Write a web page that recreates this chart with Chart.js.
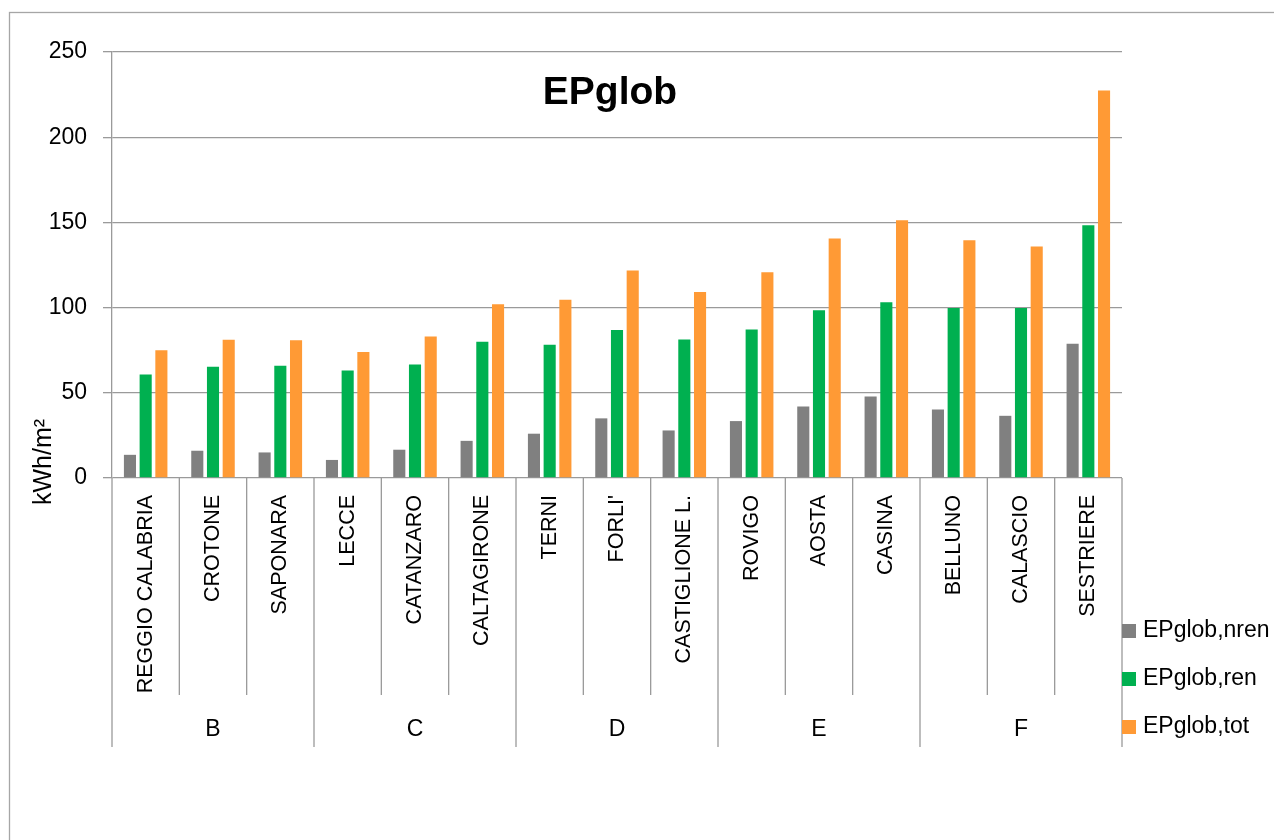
<!DOCTYPE html>
<html>
<head>
<meta charset="utf-8">
<script src="https://cdn.jsdelivr.net/npm/chart.js@4/dist/chart.umd.min.js"></script>
<style>
  html, body { margin: 0; padding: 0; background: #fff; }
  canvas { display: block; }
</style>
</head>
<body>
<canvas id="chart" width="1274" height="840"></canvas>
<script>
const cities = ['REGGIO CALABRIA', 'CROTONE', 'SAPONARA', 'LECCE', 'CATANZARO', 'CALTAGIRONE',
    'TERNI', "FORLI'", 'CASTIGLIONE L.', 'ROVIGO', 'AOSTA', 'CASINA', 'BELLUNO', 'CALASCIO', 'SESTRIERE'];
const zones = ['B', 'B', 'B', 'C', 'C', 'C', 'D', 'D', 'D', 'E', 'E', 'E', 'F', 'F', 'F'];
const nrenData = [13.6, 16.0, 15.0, 10.6, 16.6, 21.8, 26.0, 35.0, 27.9, 33.4, 42.0, 47.9, 40.2, 36.5, 78.8];
const renData = [60.8, 65.3, 65.9, 63.1, 66.6, 80.0, 78.2, 86.8, 81.3, 87.2, 98.4, 103.1, 99.7, 99.7, 148.3];
const totData = [74.9, 81.1, 80.9, 73.9, 83.1, 101.9, 104.6, 121.8, 109.1, 120.7, 140.6, 151.2, 139.5, 135.8, 227.4];
const seriesNames = ['EPglob,nren', 'EPglob,ren', 'EPglob,tot'];
const yTicks = [0, 50, 100, 150, 200, 250];

const FONT = "'Liberation Sans', Arial, sans-serif";
const GRID = '#9a9a9a';

// draws the frame, title, axis title, two-level category axis and legend
const decor = {
    id: 'decor',
    beforeDraw(chart) {
        const ctx = chart.ctx;
        ctx.save();
        ctx.fillStyle = '#fff';
        ctx.fillRect(0, 0, chart.width, chart.height);
        ctx.strokeStyle = '#a6a6a6';
        ctx.lineWidth = 1.3;
        ctx.strokeRect(9.5, 12.5, 1400, 1000);
        ctx.restore();
    },
    afterDraw(chart) {
        const ctx = chart.ctx;
        const x = chart.scales.x;
        const area = chart.chartArea;
        const step = x.getPixelForValue(1) - x.getPixelForValue(0);
        ctx.save();

        // title
        ctx.fillStyle = '#000';
        ctx.font = 'bold 39px ' + FONT;
        ctx.textAlign = 'center';
        ctx.textBaseline = 'middle';
        ctx.fillText('EPglob', 610, 93);

        // y axis title
        ctx.save();
        ctx.translate(44, 462);
        ctx.rotate(-Math.PI / 2);
        ctx.font = '25px ' + FONT;
        ctx.fillText('kWh/m²', 0, 0);
        ctx.restore();

        // city labels
        ctx.font = '21.5px ' + FONT;
        cities.forEach((c, i) => {
            ctx.save();
            ctx.translate(x.getPixelForValue(i), 495);
            ctx.rotate(-Math.PI / 2);
            ctx.textAlign = 'right';
            ctx.textBaseline = 'middle';
            ctx.fillText(c, 0, 0);
            ctx.restore();
        });

        // separators
        ctx.strokeStyle = GRID;
        ctx.lineWidth = 1.3;
        for (let i = 0; i <= cities.length; i++) {
            const bx = x.getPixelForValue(0) - step / 2 + i * step;
            const isGroup = i === 0 || i === cities.length || zones[i] !== zones[i - 1];
            ctx.beginPath();
            ctx.moveTo(bx, area.bottom);
            ctx.lineTo(bx, isGroup ? 747 : 695);
            ctx.stroke();
        }

        // zone labels
        ctx.font = '23px ' + FONT;
        ctx.textAlign = 'center';
        ctx.textBaseline = 'middle';
        let start = 0;
        for (let i = 1; i <= zones.length; i++) {
            if (i === zones.length || zones[i] !== zones[start]) {
                const cx = (x.getPixelForValue(start) + x.getPixelForValue(i - 1)) / 2;
                ctx.fillText(zones[start], cx, 730);
                start = i;
            }
        }

        // legend
        const legendY = [631, 679, 727];
        ctx.textAlign = 'left';
        chart.data.datasets.forEach((ds, i) => {
            ctx.fillStyle = ds.backgroundColor;
            ctx.fillRect(1122, legendY[i] - 7, 14, 14);
            ctx.fillStyle = '#000';
            ctx.fillText(ds.label, 1143, legendY[i]);
        });
        ctx.restore();
    }
};

const data = {
    labels: cities,
    datasets: [
        { label: seriesNames[0], data: nrenData, backgroundColor: '#808080' },
        { label: seriesNames[1], data: renData, backgroundColor: '#00b050' },
        { label: seriesNames[2], data: totData, backgroundColor: '#ff9a35' }
    ]
};

const config = {
    type: 'bar',
    data,
    options: {
        responsive: false,
        animation: false,
        layout: { padding: { left: 0, top: 52, right: 152, bottom: 102 } },
        datasets: { bar: { categoryPercentage: 0.7, barPercentage: 0.77 } },
        plugins: {
            legend: { display: false },
            tooltip: { enabled: false }
        },
        scales: {
            x: {
                grid: { display: false },
                border: { display: false },
                ticks: { display: false },
                afterFit: function(scale) { scale.height = 260; }
            },
            y: {
                min: 0,
                max: 250,
                afterBuildTicks: function(scale) { scale.ticks = yTicks.map(v => ({ value: v })); },
                ticks: { color: '#000', font: { size: 23, family: FONT }, padding: 16 },
                grid: { color: GRID, lineWidth: 1.3, tickLength: 9 },
                border: { color: GRID, width: 1.3 },
                afterFit: function(scale) { scale.width = 112; }
            }
        }
    },
    plugins: [decor]
};

new Chart(document.getElementById('chart'), config);
</script>
</body>
</html>
